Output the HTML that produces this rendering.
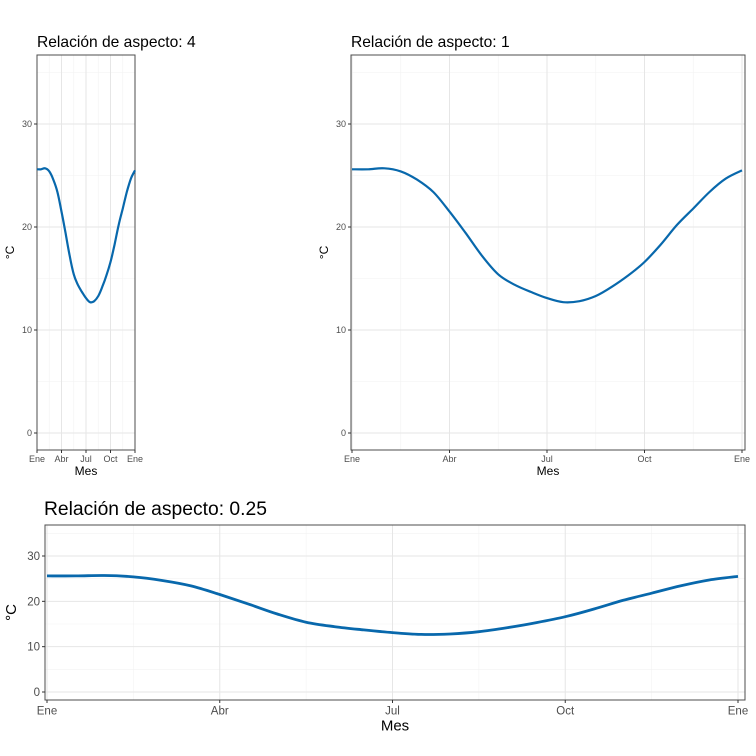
<!DOCTYPE html>
<html><head><meta charset="utf-8"><style>
body{margin:0;background:#fff}
svg{display:block;font-family:"Liberation Sans",sans-serif}
</style></head><body>
<svg id="c" width="756" height="756"></svg>
<script>
const months = [0,0.5,1,1.5,2,2.5,3,3.5,4,4.5,5,5.5,6,6.5,7,7.5,8,8.5,9,9.5,10,10.5,11,11.5,12];
const temps = [25.6,25.6,25.7,25.4,24.6,23.4,21.5,19.4,17.2,15.4,14.4,13.7,13.1,12.7,12.8,13.3,14.2,15.3,16.6,18.3,20.2,21.8,23.4,24.7,25.5];
const xTickVals = [0,3,6,9,12];
const xTickLabels = ["Ene","Abr","Jul","Oct","Ene"];
const yTickVals = [0,10,20,30];
const NS="http://www.w3.org/2000/svg";
const svg=document.getElementById('c');
function mk(tag,attrs,parent){const e=document.createElementNS(NS,tag);for(const k in attrs)e.setAttribute(k,attrs[k]);(parent||svg).appendChild(e);return e;}
function smooth(pts){
  let d='M'+pts[0][0].toFixed(1)+','+pts[0][1].toFixed(1);
  for(let i=0;i<pts.length-1;i++){
    const p0=pts[Math.max(0,i-1)],p1=pts[i],p2=pts[i+1],p3=pts[Math.min(pts.length-1,i+2)];
    const c1=[p1[0]+(p2[0]-p0[0])/6,p1[1]+(p2[1]-p0[1])/6];
    const c2=[p2[0]-(p3[0]-p1[0])/6,p2[1]-(p3[1]-p1[1])/6];
    d+='C'+c1[0].toFixed(1)+','+c1[1].toFixed(1)+' '+c2[0].toFixed(1)+','+c2[1].toFixed(1)+' '+p2[0].toFixed(1)+','+p2[1].toFixed(1);
  }
  return d;
}
function panel(p){
  const g=mk('g',{});
  
  
  const x=v=>p.x0+(v-0)/12*(p.x1-p.x0);
  const y=v=>p.yz+(p.y30-p.yz)*v/30;
  for(let v=1.5;v<12;v+=3){mk('line',{x1:x(v),x2:x(v),y1:p.top,y2:p.bot,stroke:'#f2f2f2','stroke-width':0.6},g);}
  for(let v=5;v<=35;v+=10){if(y(v)>p.top)mk('line',{x1:p.left,x2:p.right,y1:y(v),y2:y(v),stroke:'#f2f2f2','stroke-width':0.6},g);}
  xTickVals.forEach(v=>mk('line',{x1:x(v),x2:x(v),y1:p.top,y2:p.bot,stroke:'#e6e6e6','stroke-width':1},g));
  yTickVals.forEach(v=>mk('line',{x1:p.left,x2:p.right,y1:y(v),y2:y(v),stroke:'#e6e6e6','stroke-width':1},g));
  mk('rect',{x:p.left,y:p.top,width:p.right-p.left,height:p.bot-p.top,fill:'none',stroke:'#4d4d4d','stroke-width':1},g);
  xTickVals.forEach((v,i)=>{
    mk('line',{x1:x(v),x2:x(v),y1:p.bot,y2:p.bot+3,stroke:'#333'},g);
    const t=mk('text',{x:x(v),y:p.bot+3+p.fs,'font-size':p.fs,fill:'#4d4d4d','text-anchor':'middle'},g);t.textContent=xTickLabels[i];
    
  });
  yTickVals.forEach(v=>{
    mk('line',{x1:p.left-3,x2:p.left,y1:y(v),y2:y(v),stroke:'#333'},g);
    const t=mk('text',{x:p.left-5,y:y(v)+p.fs*0.35,'font-size':p.fs,fill:'#4d4d4d','text-anchor':'end'},g);t.textContent=v;
    
  });
  const pts=months.map((m,i)=>[x(m),y(temps[i])]);
  const path=mk('path',{d:smooth(pts),fill:'none',stroke:'#0868ac','stroke-width':p.lw,'stroke-linejoin':'round'},g);
  
  const xt=mk('text',{x:(p.left+p.right)/2,y:p.bot+p.fs+4+p.tfs,'font-size':p.tfs,'text-anchor':'middle',fill:'#000'},g);xt.textContent='Mes';
  
  const yx=p.ytx, yy=(p.top+p.bot)/2;
  const yt=mk('text',{x:yx,y:yy,'font-size':p.tfs,'text-anchor':'middle',fill:'#000',transform:`rotate(-90 ${yx} ${yy})`},g);yt.textContent='°C';
  
  const tt=mk('text',{x:p.titleX,y:p.titleY,'font-size':p.titleFs,fill:'#000'},g);tt.textContent=p.title;
  
}
panel({name:'panel-aspect-4',left:37,right:135,top:55,bot:450,x0:37,x1:135,yz:433,y30:124,fs:9,tfs:12,lw:2.2,ytx:14,title:'Relación de aspecto: 4',titleX:37,titleY:47,titleFs:15.6});
panel({name:'panel-aspect-1',left:351,right:745,top:55,bot:450,x0:352,x1:742,yz:433,y30:124,fs:9,tfs:12,lw:2.2,ytx:328,title:'Relación de aspecto: 1',titleX:351,titleY:47,titleFs:15.6});
panel({name:'panel-aspect-025',left:45,right:745,top:525,bot:700,x0:47,x1:738,yz:692,y30:556,fs:11.5,tfs:15,lw:2.8,ytx:16,title:'Relación de aspecto: 0.25',titleX:44,titleY:515,titleFs:19.3});
</script>
</body></html>
